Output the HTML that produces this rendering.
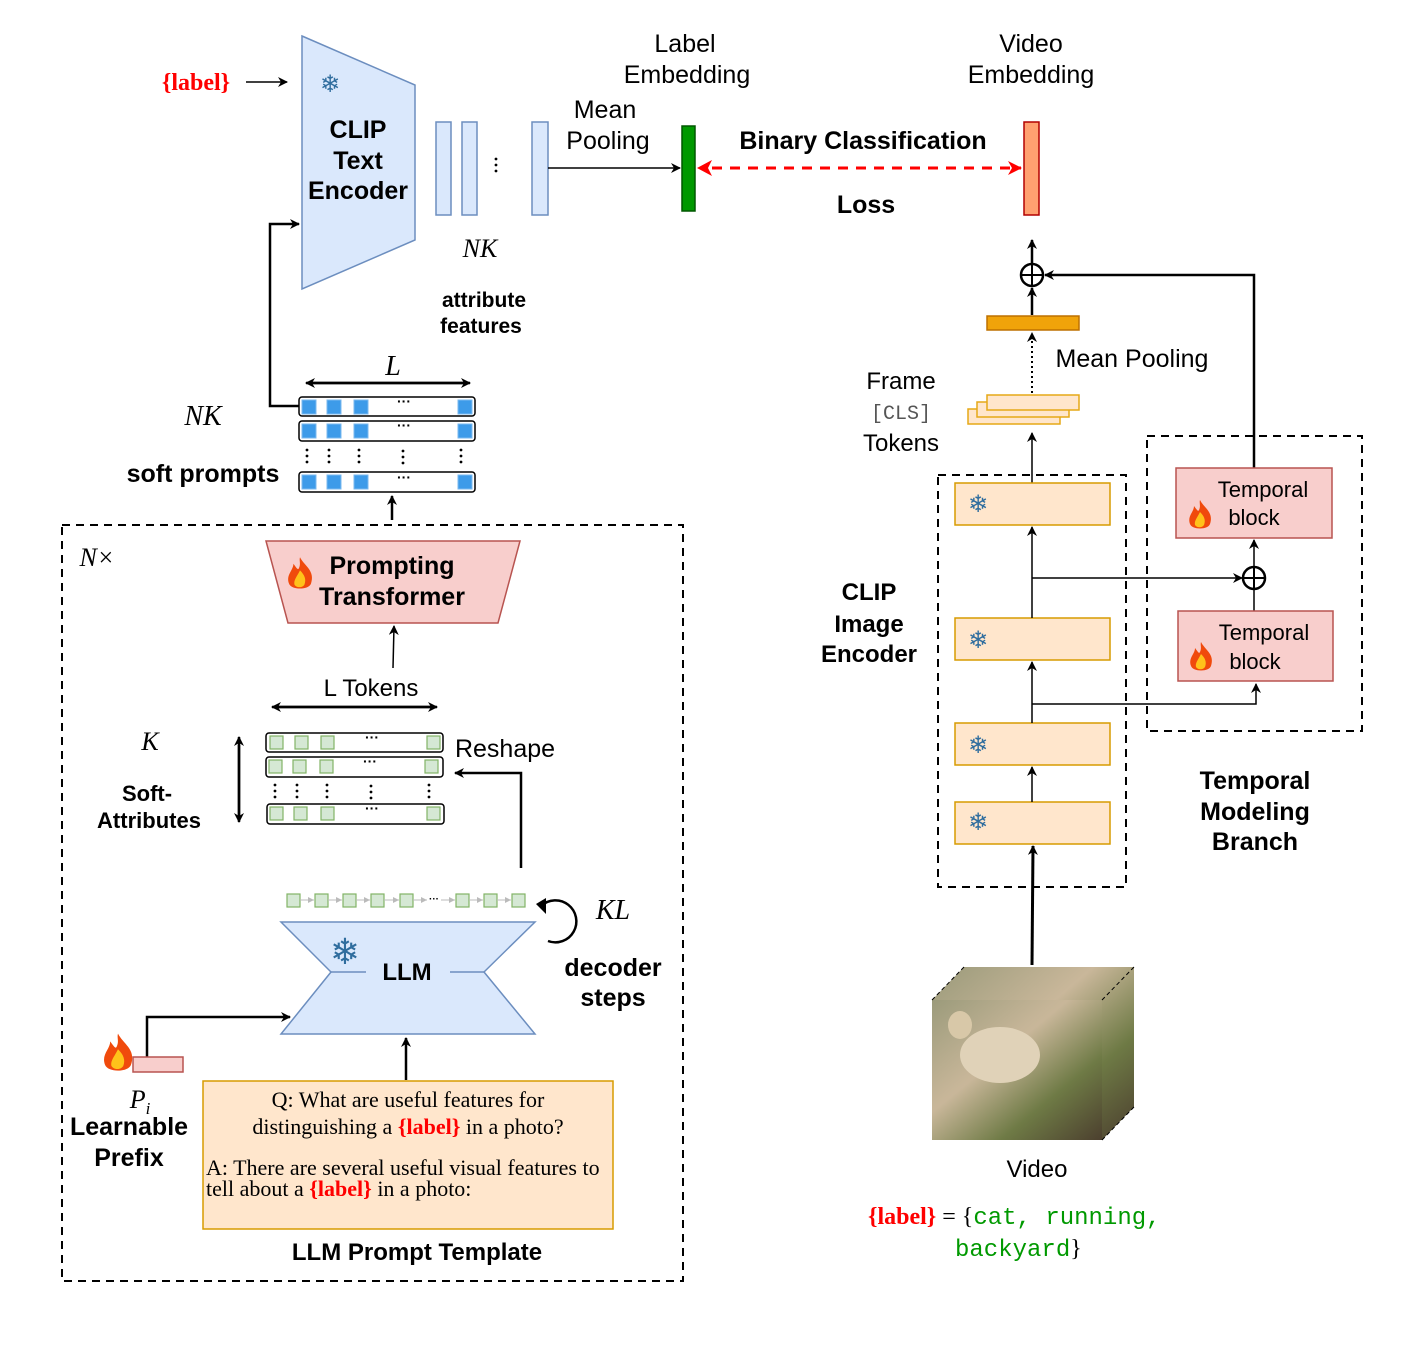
<!DOCTYPE html>
<html><head><meta charset="utf-8"><style>
body{margin:0;background:#fff}
svg{display:block}
.s{font-family:"Liberation Sans",sans-serif}
.b{font-family:"Liberation Sans",sans-serif;font-weight:bold}
.i{font-family:"Liberation Serif",serif;font-style:italic}
.r{font-family:"Liberation Serif",serif}
.m{font-family:"Liberation Mono",monospace}
.sf{font-family:"DejaVu Sans",sans-serif;fill:#2f6d9e}
</style></head><body>
<svg width="1412" height="1347" viewBox="0 0 1412 1347" xmlns="http://www.w3.org/2000/svg">
<defs>
<marker id="a" markerWidth="10" markerHeight="10" refX="9" refY="5" orient="auto" markerUnits="userSpaceOnUse"><path d="M0,0 L10,5 L0,10 L3,5 z" fill="#000"/></marker>
<marker id="ar" markerWidth="14" markerHeight="14" refX="13" refY="7" orient="auto" markerUnits="userSpaceOnUse"><path d="M0,0 L14,7 L0,14 L4,7 z" fill="#f00"/></marker>
<marker id="ag" markerWidth="6" markerHeight="6" refX="6" refY="3" orient="auto" markerUnits="userSpaceOnUse"><path d="M0,0 L6,3 L0,6 z" fill="#bbb"/></marker>
<g id="fire"><path d="M0,-18 C4,-10 14,-6 10,6 C8,12 -8,12 -10,6 C-13,-2 -6,-6 -6,-12 C-3,-8 -2,-6 -1,-8 C1,-12 -1,-15 0,-18z" fill="#f04a0c"/><path d="M0,-6 C4,-2 6,2 4,7 C2,10 -3,10 -5,7 C-6,3 -3,0 0,-6z" fill="#ffc21a"/></g>
<g id="vd" fill="#000"><circle cx="0" cy="0" r="1.4"/><circle cx="0" cy="6" r="1.4"/><circle cx="0" cy="12" r="1.4"/></g>
<linearGradient id="vid" x1="0" y1="0" x2="1" y2="1"><stop offset="0" stop-color="#9a9a7a"/><stop offset="0.4" stop-color="#c9b79a"/><stop offset="0.7" stop-color="#6e7a45"/><stop offset="1" stop-color="#4b3e2e"/></linearGradient>
</defs>
<g fill="none" stroke="#000" stroke-width="2">
<line x1="246" y1="82" x2="287" y2="82" marker-end="url(#a)" stroke-width="1.5"/>
<polygon points="302,36 415,85 415,240 302,289" fill="#dae8fc" stroke="#6c8ebf" stroke-width="1.5"/>
<rect x="436" y="122" width="15" height="93" fill="#dae8fc" stroke="#6c8ebf" stroke-width="1.5"/>
<rect x="462" y="122" width="15" height="93" fill="#dae8fc" stroke="#6c8ebf" stroke-width="1.5"/>
<rect x="532" y="122" width="16" height="93" fill="#dae8fc" stroke="#6c8ebf" stroke-width="1.5"/>
<line x1="548" y1="168" x2="680" y2="168" marker-end="url(#a)" stroke-width="1.5"/>
<rect x="682" y="126" width="13" height="85" fill="#009900" stroke="#005700" stroke-width="1.5"/>
<rect x="1024" y="122" width="15" height="93" fill="#ffa070" stroke="#b20000" stroke-width="1.5"/>
<line x1="712" y1="168" x2="1021" y2="168" stroke="#f00" stroke-width="3" stroke-dasharray="10,8" marker-end="url(#ar)"/>
<path d="M712,160 L697,168 L712,176 L708,168z" fill="#f00" stroke="none"/>
<polyline points="299,406 270,406 270,224 299,224" stroke-width="2.5" marker-end="url(#a)"/>
<line x1="308" y1="383" x2="470" y2="383" stroke-width="2.5" marker-end="url(#a)"/>
<line x1="468" y1="383" x2="306" y2="383" stroke-width="2.5" marker-end="url(#a)"/>
<g stroke-width="1.5">
<rect x="299" y="397" width="176" height="19" rx="3"/><rect x="299" y="421" width="176" height="20" rx="3"/><rect x="299" y="472" width="176" height="20" rx="3"/>
</g>
<line x1="392" y1="520" x2="392" y2="496" stroke-width="2.5" marker-end="url(#a)"/>
<rect x="62" y="525" width="621" height="756" stroke-dasharray="8,6"/>
<polygon points="266,541 520,541 498,623 288,623" fill="#f8cecc" stroke="#b85450" stroke-width="1.5"/>
<line x1="393" y1="668" x2="394" y2="626" stroke-width="1.5" marker-end="url(#a)"/>
<line x1="275" y1="707" x2="437" y2="707" stroke-width="2.5" marker-end="url(#a)"/>
<line x1="435" y1="707" x2="272" y2="707" stroke-width="2.5" marker-end="url(#a)"/>
<g stroke-width="1.5">
<rect x="266" y="733" width="177" height="19" rx="3"/><rect x="266" y="757" width="177" height="20" rx="3"/><rect x="267" y="804" width="177" height="20" rx="3"/>
</g>
<line x1="239" y1="745" x2="239" y2="822" stroke-width="2.5" marker-end="url(#a)"/>
<line x1="239" y1="815" x2="239" y2="737" stroke-width="2.5" marker-end="url(#a)"/>
<polyline points="521,868 521,773 455,773" stroke-width="2.5" marker-end="url(#a)"/>
<polygon points="281,922 535,922 484,972 535,1034 281,1034 331,972" fill="#dae8fc" stroke="#6c8ebf" stroke-width="1.5"/>
<line x1="331" y1="972" x2="366" y2="972" stroke="#6c8ebf" stroke-width="1.5"/>
<line x1="450" y1="972" x2="484" y2="972" stroke="#6c8ebf" stroke-width="1.5"/>
<path d="M541,906 A21,21 0 1 1 548,941" stroke-width="2.5"/>
<path d="M536,904 L546,898 L546,914z" fill="#000" stroke="none"/>
<polyline points="147,1057 147,1017 290,1017" stroke-width="2.5" marker-end="url(#a)"/>
<rect x="133" y="1057" width="50" height="15" fill="#f8cecc" stroke="#b85450" stroke-width="1.5"/>
<line x1="406" y1="1080" x2="406" y2="1038" stroke-width="2.5" marker-end="url(#a)"/>
<rect x="203" y="1081" width="410" height="148" fill="#ffe6cc" stroke="#d79b00" stroke-width="1.5"/>
<line x1="1032" y1="264" x2="1032" y2="240" stroke-width="2.5" marker-end="url(#a)"/>
<circle cx="1032" cy="275" r="11" stroke-width="2.5"/><line x1="1021" y1="275" x2="1043" y2="275"/><line x1="1032" y1="264" x2="1032" y2="286"/>
<line x1="1032" y1="315" x2="1032" y2="288" stroke-width="2.5" marker-end="url(#a)"/>
<polyline points="1254,468 1254,275 1045,275" stroke-width="2.5" marker-end="url(#a)"/>
<rect x="987" y="316" width="92" height="14" fill="#f0a30a" stroke="#bd7000" stroke-width="1.5"/>
<line x1="1032" y1="393" x2="1032" y2="333" stroke-dasharray="2,3" marker-end="url(#a)"/>
<g fill="#ffe6cc" stroke="#e6a817" stroke-width="1.5">
<rect x="968" y="409" width="92" height="15"/><rect x="977" y="402" width="92" height="15"/><rect x="987" y="395" width="92" height="15"/>
</g>
<line x1="1032" y1="483" x2="1032" y2="433" stroke-width="1.5" marker-end="url(#a)"/>
<rect x="938" y="475" width="188" height="412" stroke-dasharray="8,6"/>
<rect x="1147" y="436" width="215" height="295" stroke-dasharray="8,6"/>
<g fill="#ffe6cc" stroke="#d79b00" stroke-width="1.5">
<rect x="955" y="483" width="155" height="42"/><rect x="955" y="618" width="155" height="42"/><rect x="955" y="723" width="155" height="42"/><rect x="955" y="802" width="155" height="42"/>
</g>
<g stroke-width="1.5">
<line x1="1032" y1="618" x2="1032" y2="527" marker-end="url(#a)"/>
<line x1="1032" y1="723" x2="1032" y2="662" marker-end="url(#a)"/>
<line x1="1032" y1="802" x2="1032" y2="767" marker-end="url(#a)"/>
<line x1="1032" y1="578" x2="1242" y2="578" marker-end="url(#a)"/>
<polyline points="1032,704 1256,704 1256,684" marker-end="url(#a)"/>
<line x1="1254" y1="611" x2="1254" y2="590"/>
<line x1="1254" y1="567" x2="1254" y2="540" marker-end="url(#a)"/>
</g>
<line x1="1032" y1="965" x2="1033" y2="846" stroke-width="3" marker-end="url(#a)"/>
<circle cx="1254" cy="578" r="11" stroke-width="2.5"/><line x1="1243" y1="578" x2="1265" y2="578"/><line x1="1254" y1="567" x2="1254" y2="589"/>
<g fill="#f8cecc" stroke="#b85450" stroke-width="1.5">
<rect x="1176" y="468" width="156" height="70"/><rect x="1178" y="611" width="155" height="70"/>
</g>
<polygon points="964,967 1134,967 1134,1107 1102,1140 932,1140 932,1000" fill="url(#vid)" stroke="none"/>
<rect x="932" y="1000" width="170" height="140" fill="url(#vid)" stroke="none" opacity="0.9"/>
<ellipse cx="1000" cy="1055" rx="40" ry="28" fill="#e0d2b8" stroke="none"/>
<ellipse cx="960" cy="1025" rx="12" ry="14" fill="#d8c8a8" stroke="none"/>
<g stroke-width="1" stroke-dasharray="4,3"><line x1="932" y1="1000" x2="964" y2="967"/><line x1="1102" y1="1140" x2="1134" y2="1107"/><line x1="1102" y1="1000" x2="1134" y2="967"/></g>
</g>
<g fill="#3d9be9" stroke="#7ab8ef" stroke-width="1">
<rect x="302" y="400" width="14" height="14"/><rect x="327" y="400" width="14" height="14"/><rect x="354" y="400" width="14" height="14"/><rect x="458" y="400" width="14" height="14"/>
<rect x="302" y="424" width="14" height="14"/><rect x="327" y="424" width="14" height="14"/><rect x="354" y="424" width="14" height="14"/><rect x="458" y="424" width="14" height="14"/>
<rect x="302" y="475" width="14" height="14"/><rect x="327" y="475" width="14" height="14"/><rect x="354" y="475" width="14" height="14"/><rect x="458" y="475" width="14" height="14"/>
</g>
<g fill="#d5e8d4" stroke="#82b366" stroke-width="1.2">
<rect x="270" y="736" width="13" height="13"/><rect x="295" y="736" width="13" height="13"/><rect x="321" y="736" width="13" height="13"/><rect x="427" y="736" width="13" height="13"/>
<rect x="269" y="760" width="13" height="13"/><rect x="293" y="760" width="13" height="13"/><rect x="320" y="760" width="13" height="13"/><rect x="425" y="760" width="13" height="13"/>
<rect x="270" y="807" width="13" height="13"/><rect x="294" y="807" width="13" height="13"/><rect x="321" y="807" width="13" height="13"/><rect x="427" y="807" width="13" height="13"/>
<rect x="287" y="894" width="13" height="13"/><rect x="315" y="894" width="13" height="13"/><rect x="343" y="894" width="13" height="13"/><rect x="371" y="894" width="13" height="13"/><rect x="400" y="894" width="13" height="13"/><rect x="456" y="894" width="13" height="13"/><rect x="484" y="894" width="13" height="13"/><rect x="512" y="894" width="13" height="13"/>
</g>
<g stroke="#bbb" stroke-width="1">
<line x1="300" y1="900" x2="314" y2="900" marker-end="url(#ag)"/><line x1="328" y1="900" x2="342" y2="900" marker-end="url(#ag)"/><line x1="356" y1="900" x2="370" y2="900" marker-end="url(#ag)"/><line x1="384" y1="900" x2="399" y2="900" marker-end="url(#ag)"/><line x1="413" y1="900" x2="427" y2="900" marker-end="url(#ag)"/><line x1="441" y1="900" x2="455" y2="900" marker-end="url(#ag)"/><line x1="469" y1="900" x2="483" y2="900" marker-end="url(#ag)"/><line x1="497" y1="900" x2="511" y2="900" marker-end="url(#ag)"/>
</g>
<g fill="#000" font-family="Liberation Sans" font-weight="bold" font-size="14" text-anchor="middle">
<text x="404" y="406">···</text><text x="404" y="430">···</text><text x="404" y="482">···</text>
<text x="372" y="742">···</text><text x="370" y="766">···</text><text x="372" y="813">···</text>
<text x="434" y="902" font-size="10">···</text>
</g>
<use href="#vd" x="307" y="450"/><use href="#vd" x="329" y="450"/><use href="#vd" x="359" y="450"/><use href="#vd" x="403" y="451"/><use href="#vd" x="461" y="450"/>
<use href="#vd" x="275" y="785"/><use href="#vd" x="297" y="785"/><use href="#vd" x="327" y="785"/><use href="#vd" x="371" y="786"/><use href="#vd" x="429" y="785"/>
<use href="#vd" x="496" y="159"/>
<use href="#fire" transform="translate(300,577) scale(1.1)"/>
<use href="#fire" transform="translate(118,1057) scale(1.3)"/>
<use href="#fire" transform="translate(1200,518) scale(1.0)"/>
<use href="#fire" transform="translate(1201,660) scale(1.0)"/>
<g class="sf" text-anchor="middle">
<text x="330" y="92" font-size="24">❄</text>
<text x="345" y="964" font-size="36">❄</text>
<text x="978" y="512" font-size="24">❄</text>
<text x="978" y="648" font-size="24">❄</text>
<text x="978" y="753" font-size="24">❄</text>
<text x="978" y="830" font-size="24">❄</text>
</g>
<g text-anchor="middle">
<text x="196" y="90" class="r" font-weight="bold" font-size="24" fill="#f00">{label}</text>
<g class="b" font-size="25"><text x="358" y="138">CLIP</text><text x="358" y="169">Text</text><text x="358" y="199">Encoder</text></g>
<g class="s" font-size="25"><text x="685" y="52">Label</text><text x="687" y="83">Embedding</text><text x="1031" y="52">Video</text><text x="1031" y="83">Embedding</text>
<text x="605" y="118">Mean</text><text x="608" y="149">Pooling</text></g>
<text x="863" y="149" class="b" font-size="25">Binary Classification</text>
<text x="866" y="213" class="b" font-size="25">Loss</text>
<text x="480" y="257" class="i" font-size="26">NK</text>
<text x="484" y="307" class="b" font-size="21">attribute</text><text x="481" y="333" class="b" font-size="21">features</text>
<text x="393" y="375" class="i" font-size="28">L</text>
<text x="203" y="425" class="i" font-size="28">NK</text>
<text x="203" y="482" class="b" font-size="25">soft prompts</text>
<text x="97" y="566" class="i" font-size="26">N×</text>
<text x="392" y="574" class="b" font-size="25">Prompting</text><text x="392" y="605" class="b" font-size="25">Transformer</text>
<text x="371" y="696" class="s" font-size="24">L Tokens</text>
<text x="150" y="750" class="i" font-size="26">K</text>
<text x="147" y="801" class="b" font-size="22">Soft-</text><text x="149" y="828" class="b" font-size="22">Attributes</text>
<text x="505" y="757" class="s" font-size="25">Reshape</text>
<text x="407" y="980" class="b" font-size="24">LLM</text>
<text x="613" y="919" class="i" font-size="28">KL</text>
<text x="613" y="976" class="b" font-size="25">decoder</text><text x="613" y="1006" class="b" font-size="25">steps</text>
<text x="140" y="1108" class="i" font-size="26">P<tspan font-size="17" dy="6">i</tspan></text>
<text x="129" y="1135" class="b" font-size="25">Learnable</text><text x="129" y="1166" class="b" font-size="25">Prefix</text>
<g class="r" font-size="22"><text x="408" y="1107">Q: What are useful features for</text>
<text x="408" y="1134">distinguishing a <tspan fill="#f00" font-weight="bold">{label}</tspan> in a photo?</text></g>
<text x="417" y="1260" class="b" font-size="24">LLM Prompt Template</text>
<text x="1132" y="367" class="s" font-size="25">Mean Pooling</text>
<text x="901" y="389" class="s" font-size="24">Frame</text>
<text x="901" y="419" class="m" font-size="20" fill="#555">[CLS]</text>
<text x="901" y="451" class="s" font-size="24">Tokens</text>
<text x="869" y="600" class="b" font-size="24">CLIP</text><text x="869" y="632" class="b" font-size="24">Image</text><text x="869" y="662" class="b" font-size="24">Encoder</text>
<text x="1263" y="497" class="s" font-size="22">Temporal</text><text x="1254" y="525" class="s" font-size="22">block</text>
<text x="1264" y="640" class="s" font-size="22">Temporal</text><text x="1255" y="669" class="s" font-size="22">block</text>
<text x="1255" y="789" class="b" font-size="25">Temporal</text><text x="1255" y="820" class="b" font-size="25">Modeling</text><text x="1255" y="850" class="b" font-size="25">Branch</text>
<text x="1037" y="1177" class="s" font-size="24">Video</text>
</g>
<g class="r" font-size="22">
<text x="206" y="1175">A: There are several useful visual features to</text>
<text x="206" y="1196">tell about a <tspan fill="#f00" font-weight="bold">{label}</tspan> in a photo:</text>
</g>
<text x="868" y="1224" font-size="24"><tspan class="r" fill="#f00" font-weight="bold">{label}</tspan><tspan class="r"> = {</tspan><tspan class="m" fill="#009900">cat, running,</tspan></text>
<text x="955" y="1256" font-size="24"><tspan class="m" fill="#009900">backyard</tspan><tspan class="r">}</tspan></text>
</svg>
</body></html>
